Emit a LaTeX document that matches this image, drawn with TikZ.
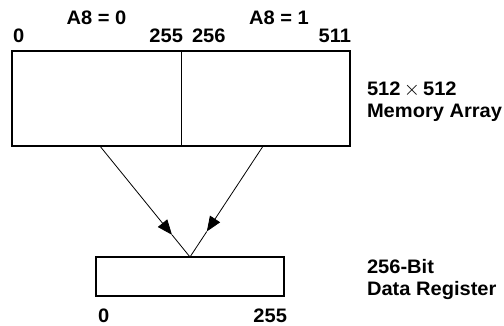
\documentclass[tikz,border=0pt]{standalone}
\usepackage{fontspec}
\setmainfont{Liberation Sans}[FakeStretch=1.03]
\usetikzlibrary{positioning,calc,arrows.meta}

\begin{document}
\begin{tikzpicture}[x=1pt,y=-1pt,outer sep=0pt,
            boxb/.style={
                draw,
                line width=2.4pt,
                inner sep=0pt},
            lbl/.style={
                font={\fontsize{19.5}{22}\selectfont\bfseries},
                inner sep=0pt,
                text height=14pt,
                text depth=0pt},
            twolbl/.style={lbl,align=left,text height=,text depth=},
            feed/.style={line width=0.8pt},
        ]
        \useasboundingbox (0,0) rectangle (504,326);

        \node[boxb,minimum width=338pt,minimum height=95pt,anchor=north west] (Mem) at (12,51) {};
        \node[boxb,minimum width=188pt,minimum height=39pt,anchor=north west] (Reg) at (96,257) {};
        \draw[feed] (Mem.north) -- (Mem.south);

        % column numbers above the array
        \node[lbl,anchor=south west] (c0) at ($(Mem.north west)+(1,-8)$) {0};
        \node[lbl,anchor=south east] (c255) at ($(Mem.north)+(2,-8)$) {255};
        \node[lbl,anchor=south west] (c256) at ($(Mem.north)+(11,-8)$) {256};
        \node[lbl,anchor=south east] (c511) at ($(Mem.north east)+(1,-8)$) {511};
        \node[lbl,anchor=south] (half0) at ($(Mem.north west)!0.25!(Mem.north east)+(0,-26)$) {A8 = 0};
        \node[lbl,anchor=south] (half1) at ($(Mem.north west)!0.79!(Mem.north east)+(0,-26)$) {A8 = 1};

        % side labels
        \node[twolbl,anchor=base west] (memlbl) at ($(Mem.north east)+(17,67)$) {512\,$\times$\,512\\Memory Array};
        \node[twolbl,anchor=base west] (reglbl) at ($(Reg.north east)+(83,38)$) {256-Bit\\Data Register};

        % bit numbers below the register
        \node[lbl,anchor=north west] (r0) at ($(Reg.south west)+(2,13)$) {0};
        \node[lbl,anchor=north east] (r255) at ($(Reg.south east)+(3,13)$) {255};

        % transfer into the register
        \coordinate (fromL) at ($(Mem.south west)!0.26!(Mem.south east)$);
        \coordinate (fromR) at ($(Mem.south west)!0.743!(Mem.south east)$);
        \coordinate (tipL) at ($(fromL)!0.8!(Reg.north)$);
        \coordinate (tipR) at ($(fromR)!0.77!(Reg.north)$);
        \draw[feed,-{Triangle[length=15pt,width=12pt]}] (fromL) -- (tipL);
        \draw[feed,-{Triangle[length=15pt,width=12pt]}] (fromR) -- (tipR);
        \draw[feed] (tipL) -- (Reg.north) -- (tipR);
\end{tikzpicture}
\end{document}
